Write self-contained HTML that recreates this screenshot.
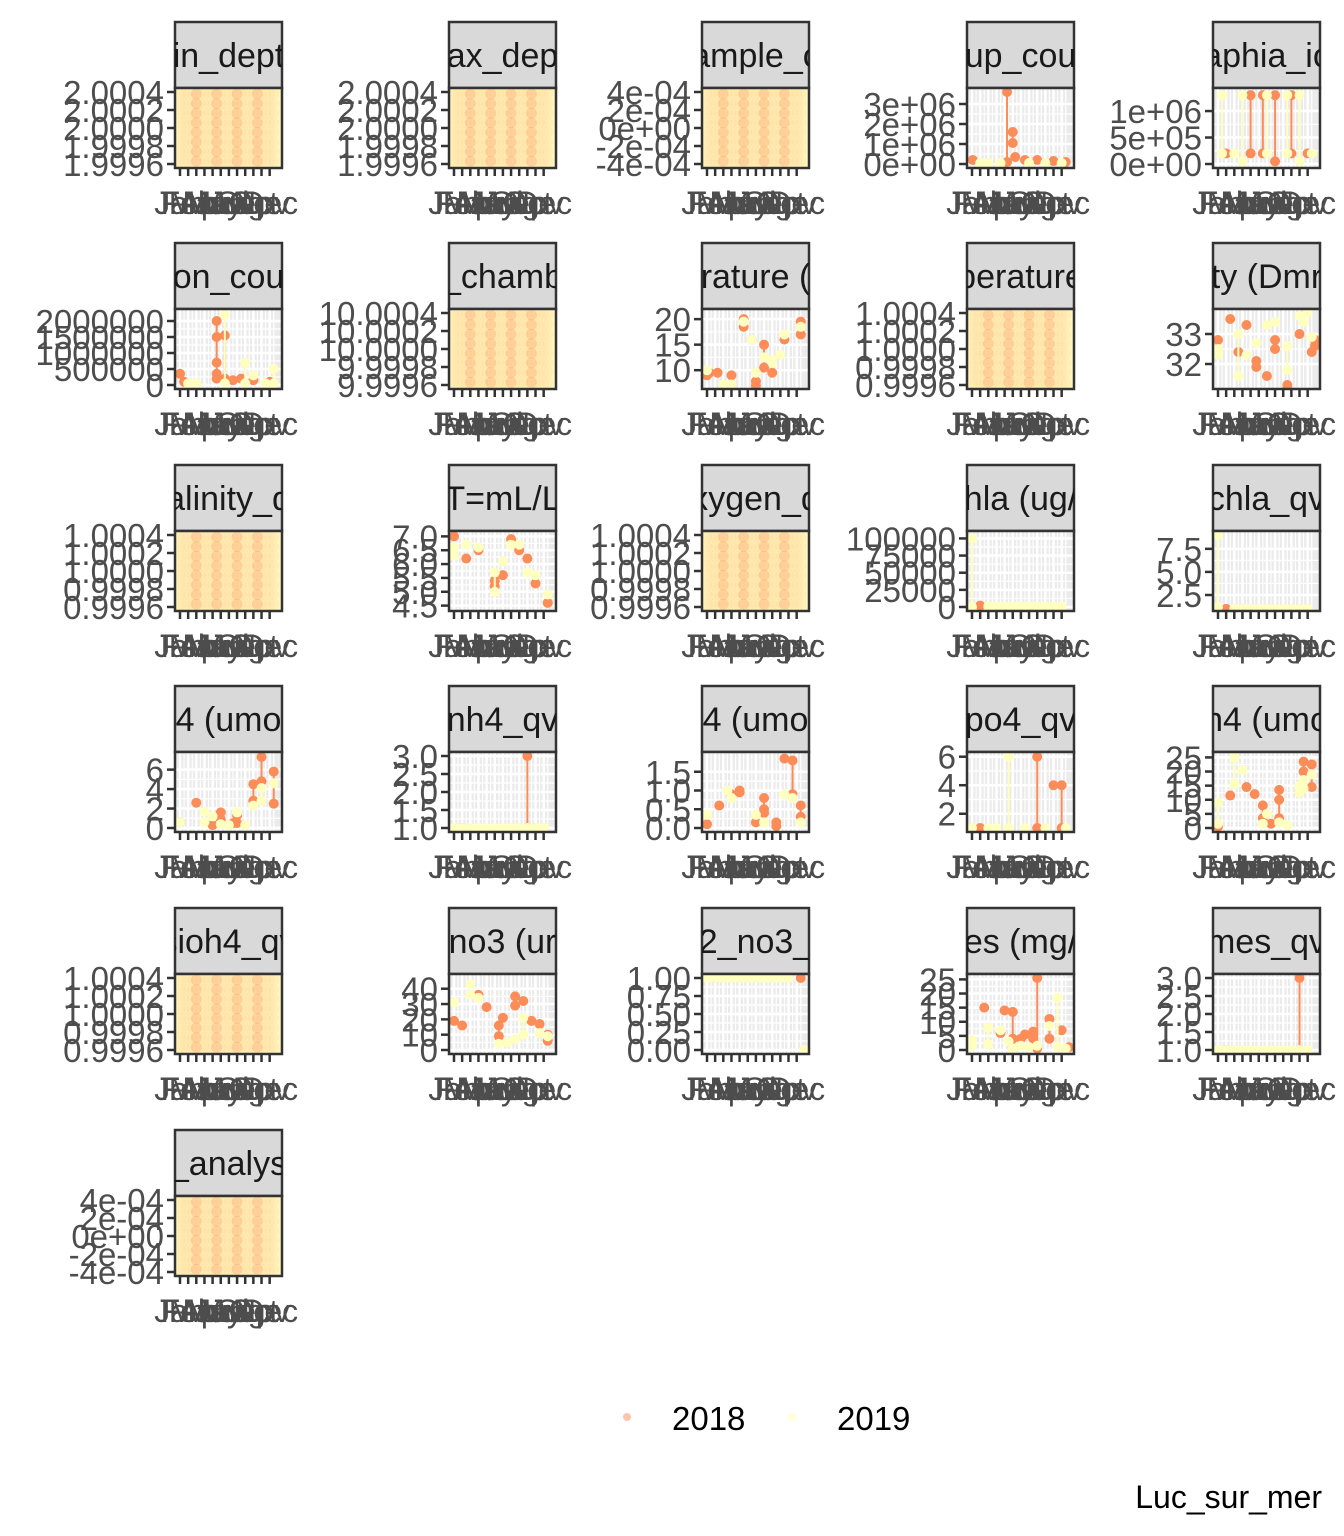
<!DOCTYPE html>
<html><head><meta charset="utf-8"><style>
html,body{margin:0;padding:0;background:#fff;}
svg{display:block;font-family:"Liberation Sans",sans-serif;}
</style></head><body>
<svg id="chart" width="1344" height="1536" viewBox="0 0 1344 1536"></svg>
<script>
const months = ["Jan","Feb","Mar","Apr","May","Jun","Jul","Aug","Sep","Oct","Nov","Dec"];
const years = ["2018","2019"];
const titles = ["in_dept","ax_dep","ample_c","up_cou","aphia_ic","on_cou","_chamb","rature (","perature","ty (Dmr","alinity_q","T=mL/L","xygen_q","hla (ug/","chla_qv","4 (umo","nh4_qv","4 (umo","po4_qv","h4 (umo","sioh4_qv","no3 (ur","2_no3_","es (mg/","mes_qv","_analys"];
const yLo = [1.9996,1.9996,-4e-4,0,0,0,9.9996,7.1,0.9996,31.3,0.9996,4.45,0.9996,0,1.2,0,1,0,1,0,0.9996,0,0,0,1,-4e-4];
const yHi = [2.0004,2.0004,4e-4,3.6e6,1.36e6,2.25e6,10.0004,21.2,1.0004,33.7,1.0004,7.05,1.0004,105000,9,7.4,3,1.92,6.05,25.5,1.0004,47,1,25.5,3,4e-4];
const tickVals = [
 [1.9996,1.9998,2.0,2.0002,2.0004],[1.9996,1.9998,2.0,2.0002,2.0004],[-4e-4,-2e-4,0,2e-4,4e-4],
 [0,1e6,2e6,3e6],[0,5e5,1e6],[0,5e5,1e6,1.5e6,2e6],[9.9996,9.9998,10,10.0002,10.0004],[10,15,20],
 [0.9996,0.9998,1,1.0002,1.0004],[32,33],[0.9996,0.9998,1,1.0002,1.0004],[4.5,5,5.5,6,6.5,7],
 [0.9996,0.9998,1,1.0002,1.0004],[0,25000,50000,75000,100000],[2.5,5,7.5],[0,2,4,6],[1,1.5,2,2.5,3],
 [0,0.5,1,1.5],[2,4,6],[0,5,10,15,20,25],[0.9996,0.9998,1,1.0002,1.0004],[0,10,20,30,40],
 [0,0.25,0.5,0.75,1],[0,5,10,15,20,25],[1,1.5,2,2.5,3],[-4e-4,-2e-4,0,2e-4,4e-4]];
const tickLabels = [
 ["1.9996","1.9998","2.0000","2.0002","2.0004"],["1.9996","1.9998","2.0000","2.0002","2.0004"],["-4e-04","-2e-04","0e+00","2e-04","4e-04"],
 ["0e+00","1e+06","2e+06","3e+06"],["0e+00","5e+05","1e+06"],["0","500000","1000000","1500000","2000000"],["9.9996","9.9998","10.0000","10.0002","10.0004"],["10","15","20"],
 ["0.9996","0.9998","1.0000","1.0002","1.0004"],["32","33"],["0.9996","0.9998","1.0000","1.0002","1.0004"],["4.5","5.0","5.5","6.0","6.5","7.0"],
 ["0.9996","0.9998","1.0000","1.0002","1.0004"],["0","25000","50000","75000","100000"],["2.5","5.0","7.5"],["0","2","4","6"],["1.0","1.5","2.0","2.5","3.0"],
 ["0.0","0.5","1.0","1.5"],["2","4","6"],["0","5","10","15","20","25"],["0.9996","0.9998","1.0000","1.0002","1.0004"],["0","10","20","30","40"],
 ["0.00","0.25","0.50","0.75","1.00"],["0","5","10","15","20","25"],["1.0","1.5","2.0","2.5","3.0"],["-4e-04","-2e-04","0e+00","2e-04","4e-04"]];
const denseFlag = [1,1,1,0,0,0,1,0,1,0,1,0,1,0,0,0,0,0,0,0,1,0,0,0,0,1];
const m18 = {
 3:[1.1,5.3,5.3,6,6,6.3,7.5,9,11,12.5],
 4:[2,5,5,6.5,6.5,8,8,10,10,12],
 5:[1,1.5,5.5,5.5,5.5,5.5,5.5,6.5,6.5,7.5,8.5,10,12],
 7:[1,1.3,2.3,4,5.5,5.5,6.5,7,7,8,8,9,10.5,12.5,12.5],
 9:[1,2.5,3.5,4.5,5.7,5.7,7,8,8,9.5,9.5,11,12.5,12.9,12.9],
 11:[1,2.5,4,6,6,7,8,9,10,11,12.5],
 13:[2], 14:[2],
 15:[1,3,5,6,6,7.5,8,8,10,10,11,11,12.5,12.5],
 16:[2,10,10],
 17:[1,2.5,4,5,5,7,8,8,8,9.5,9.5,10.5,11.5,11.5,12.5,12.5],
 18:[2,9,9,11,12,12],
 19:[1,2.5,4.5,5.5,6.5,6.5,7.5,8.5,8.5,8.5,11,11.5,11.5,12.5,12.5],
 21:[1,2,4,5,6.5,6.5,7,8.5,8.5,9.5,10.5,11.5,12.5,12.5],
 22:[2,12.5],
 23:[2.5,4.5,5,6,6,6,7,7.5,8.5,8.5,9,9,10.5,10.5,12,12.9],
 24:[2,11,11]};
const v18 = {
 3:[2e5,3.6e6,1e5,1.6e6,1.05e6,3.5e5,2e5,2e5,1.5e5,1e5],
 4:[2e5,1.3e6,2e5,1.3e6,2e5,1.3e6,5e4,1.3e6,2e5,2e5],
 5:[3.5e5,1e5,2.0e6,1.5e6,7e5,3.5e5,2e5,1.55e6,2e5,1.5e5,2e5,1.5e5,1e5],
 7:[9,9.5,9.5,9,20,18.5,16,7,7.8,15,10.5,9.5,16,17,19.5],
 9:[32.8,33.5,32.4,33.3,32.1,31.9,31.6,32.8,32.5,31.3,31.2,33.0,32.4,32.8,32.6],
 11:[7.0,6.2,6.5,5.4,5.2,5.6,6.9,6.5,6.2,5.3,4.6],
 13:[2000], 14:[1],
 15:[0.6,2.6,0.3,1.6,0.9,0.5,0.5,1.3,4.5,2.8,7.3,4.8,5.8,2.5],
 16:[1,3,1],
 17:[0.1,0.6,0.9,1.0,0.95,0.15,0.8,0.5,0.4,0.05,0.15,1.85,1.8,0.9,0.6,0.3],
 18:[1,6,1,4,4,1],
 19:[0.5,11.5,14.5,12,8,3.5,1.5,13.5,10,3.5,12.5,23.5,20,22.5,14.5],
 21:[19,16,36,28,16,9,21,35,29,32,19,17,10,6],
 22:[1,1],
 23:[15,6,14,13.5,4,0.5,4,5.5,6.5,4,25.5,0.5,11,4,7,1],
 24:[1,3,1]};
const m19 = {
 3:[2,3,4.5,8,10,12],
 4:[1.5,1.5,4,4,7,7,9.5,9.5,11,11,3,12.5],
 5:[2,3,6.5,6.5,9,9,10,11.5,12.5,12.5],
 7:[1,3,4,5.5,6.5,7,8,9,9,10,10.5,12.5],
 9:[1,1,3.5,3.5,4.5,5.7,7,8,9.5,9.5,11,11.5,12,12.5],
 11:[1,1,2.5,4,6,6,7,8,9,10,11,12.5],
 13:[1,1,3,4,5,6,7,8,9,10,11,12],
 14:[1,1,3,4,5,6,7,8,9,10,11,12],
 15:[1,4,4,5,6,7,8,9,10,11,11,12.5],
 16:[1,2,3,4,5,6,7,8,9,10,11,12],
 17:[1,3.5,4,7,8,10.5,11.5,12.5],
 18:[1,3,4,5.5,5.5,7.5,10,12.5],
 19:[1,1,3,3,4,6.5,7,8.5,9.5,11,11,11.5,11.5,12.5],
 21:[1,3,3,4,6.5,7.5,8.5,9.5,9.5,11.5,12.5],
 22:[1,2,3,4,5,6,7,8,9,10,11,12.9],
 23:[1,1,3,3,4.5,5.5,6,7,8,9,10.5,11.5,11.5,12.5],
 24:[1,2,3,4,5,6,7,8,9,10,11,12]};
const v19 = {
 3:[5e4,5e4,5e4,5e4,5e4,5e4],
 4:[1.3e6,2e5,1.3e6,5e4,1.3e6,2e5,1.3e6,2e5,1.3e6,5e4,2e5,2e5],
 5:[5e4,5e4,2.2e6,5e4,7e5,5e4,3e5,5e4,5e5,5e4],
 7:[10,7.2,7.2,19.5,16,9.5,12.5,12,11.5,13,17,18.5],
 9:[32.5,32.3,33.0,31.6,32.3,32.7,33.3,33.4,32.6,31.8,33.6,33.4,33.7,32.9],
 11:[6.6,6.3,6.7,6.6,5.7,5.0,6.1,6.7,6.7,5.7,5.6,4.9],
 13:[100000,0,1000,1000,1000,1000,1000,1000,1000,1000,1000,1000],
 14:[9,1.2,1,1,1,1,1,1,1,1,1,1],
 15:[0.6,1.7,0.6,1.2,0.4,0.3,1.6,0.3,2.3,4.1,2.8,4.6],
 16:[1,1,1,1,1,1,1,1,1,1,1,1],
 17:[0.35,1.0,0.8,0.35,0.15,0.9,0.8,0.15],
 18:[1,1,1,6,1,1,1,1],
 19:[9,1.5,25,15.5,20.5,1.5,5,2,1,15,12.5,17,14,19],
 21:[31,43,36,34,4,5,7,10,21,11,9],
 22:[1,1,1,1,1,1,1,1,1,1,1,0],
 23:[3.5,1.5,8,2,7,3,0.5,1.5,1,1.5,8.5,18.5,1,0.5],
 24:[1,1,1,1,1,1,1,1,1,1,1,1]};

const colX = [175,449,702,967,1213];
const rowY = [22,243,465,686,908,1130];
const PW = 107, SH = 66, PH = 80;
const C18 = "#fc8d59", C19 = "#ffffbf";
const svg = document.getElementById('chart');
const NS = "http://www.w3.org/2000/svg";
function mk(tag, attrs, parent){const e=document.createElementNS(NS,tag);for(const k in attrs)e.setAttribute(k,attrs[k]);(parent||svg).appendChild(e);return e;}

titles.forEach((title,i)=>{
  const L = colX[i%5], T = rowY[Math.floor(i/5)];
  const pt = T+SH, pb = pt+PH;
  const g = mk('g',{});
  
  
  const xs = m => L + 5 + (m-1)/11.9*97;
  const lo=yLo[i], hi=yHi[i];
  const ys = v => pb - 4 - (v-lo)/(hi-lo)*(PH-8);
  const cp = mk('clipPath',{id:'cp'+i},g);
  mk('rect',{x:L,y:T,width:PW,height:SH},cp);
  const strip = mk('rect',{x:L,y:T,width:PW,height:SH,fill:'#d9d9d9',stroke:'#333',"stroke-width":2.5},g);
  
  
  const st = mk('text',{x:L+PW/2,y:T+SH/2+12,"text-anchor":"middle","font-size":34,fill:'#1a1a1a',"clip-path":'url(#cp'+i+')'},g);
  st.textContent = title;
  
  
  const pcp = mk('clipPath',{id:'pc'+i},g);
  mk('rect',{x:L,y:pt,width:PW,height:PH},pcp);
  const dense = denseFlag[i]===1;
  mk('rect',{x:L,y:pt,width:PW,height:PH,fill:dense?'#fff6bd':'#ebebeb'},g);
  const pg = mk('g',{"clip-path":'url(#pc'+i+')'},g);
  if(!dense){
    for(let m=1;m<=12;m++){mk('line',{x1:xs(m),x2:xs(m),y1:pt,y2:pb,stroke:'#fff',"stroke-width":2.5},pg);mk('line',{x1:xs(m+0.5),x2:xs(m+0.5),y1:pt,y2:pb,stroke:'#fff',"stroke-width":1.2},pg);}
    const tv=tickVals[i];
    tv.forEach((v,k)=>{mk('line',{x1:L,x2:L+PW,y1:ys(v),y2:ys(v),stroke:'#fff',"stroke-width":2.5},pg);
      if(k<tv.length-1) mk('line',{x1:L,x2:L+PW,y1:ys((v+tv[k+1])/2),y2:ys((v+tv[k+1])/2),stroke:'#fff',"stroke-width":1.2},pg);});
    [[m18,v18,C18],[m19,v19,C19]].forEach(([M,V,c])=>{
      const mm=M[i]||[], vv=V[i]||[];
      const groups={};
      mm.forEach((m,k)=>{(groups[m]=groups[m]||[]).push(vv[k]);});
      for(const m in groups){const a=groups[m];if(a.length>1){const ln=mk('line',{x1:xs(+m),x2:xs(+m),y1:ys(Math.min(...a)),y2:ys(Math.max(...a)),stroke:c,"stroke-width":2},pg);
        
        }}
      mm.forEach((m,k)=>{const p=mk('circle',{cx:xs(m),cy:ys(vv[k]),r:5,fill:c},pg);
        
        });
    });
  } else {
    for(let m=1;m<=12.9;m+=0.5){
      const strong = (Math.round(m*2)%5===1);
      for(let r=0;r<8;r++){
        const c=mk('circle',{cx:xs(m),cy:pt+6+r*9.6,r:5.5,fill:strong?C18:'#fdbb84',"fill-opacity":strong?0.3:0.12},pg);
        
        
      }
    }
  }
  mk('rect',{x:L,y:pt,width:PW,height:PH,fill:'none',stroke:'#333',"stroke-width":2.5},g);
  tickVals[i].forEach((v,k)=>{
    mk('line',{x1:L-8,x2:L,y1:ys(v),y2:ys(v),stroke:'#333',"stroke-width":2.5},g);
    const t=mk('text',{x:L-11,y:ys(v)+12,"text-anchor":"end","font-size":33,fill:'#4d4d4d'},g);
    t.textContent=tickLabels[i][k];
    
    
  });
  months.forEach((mn,k)=>{
    mk('line',{x1:xs(k+1),x2:xs(k+1),y1:pb,y2:pb+8,stroke:'#333',"stroke-width":2.5},g);
    const t=mk('text',{x:xs(k+1),y:pb+46,"text-anchor":"middle","font-size":32,fill:'#4d4d4d'},g);
    t.textContent=mn;
    
    
  });
});
const lg = mk('g',{});


const legX=[627,792];
years.forEach((y,k)=>{
  const c=mk('circle',{cx:legX[k],cy:1417,r:4,fill:k?C19:C18,"fill-opacity":k?0.6:0.5},lg);
  
  
  const t=mk('text',{x:legX[k]+45,y:1430,"font-size":33,fill:'#000'},lg);
  t.textContent=y;
  
  
});
const cap=mk('text',{x:1322,y:1508,"text-anchor":"end","font-size":32,fill:'#000'});
cap.textContent='Luc_sur_mer';


</script>
</body></html>
